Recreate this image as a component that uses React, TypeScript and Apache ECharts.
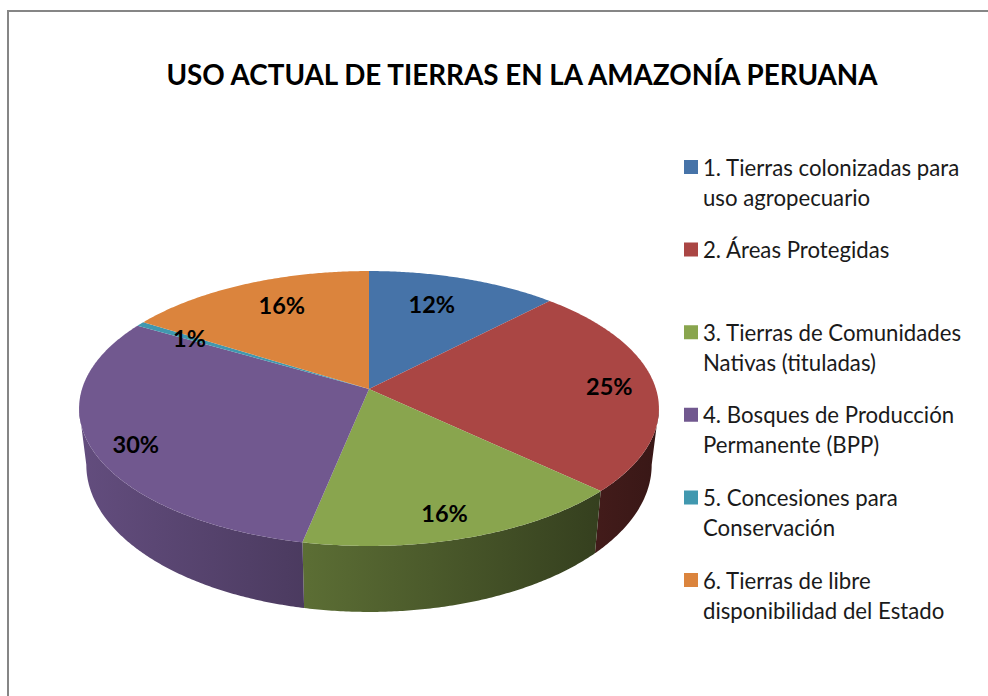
import React, { useEffect, useRef } from "react";
import * as echarts from "echarts";

const TITLE = "USO ACTUAL DE TIERRAS EN LA AMAZONÍA PERUANA";
const categories = [
  "1. Tierras colonizadas para\nuso agropecuario",
  "2. Áreas Protegidas",
  "3. Tierras de Comunidades\nNativas (tituladas)",
  "4. Bosques de Producción\nPermanente (BPP)",
  "5. Concesiones para\nConservación",
  "6. Tierras de libre\ndisponibilidad del Estado",
];
const shares = [12.2, 24.8, 16.2, 30.2, 0.55, 16.05];
const colors = ["#4673a8", "#aa4644", "#89a54e", "#71588f", "#4198af", "#db843d"];
const labelRadii = [0.7, 0.84, 0.85, 0.85, 0.75, 0.75];
const labelNudges = [[-6, -5], [0, 0], [-8, 1], [1, 6], [-5, -1], [8, -3]];

// Perspective projection of the pie's top and bottom discs
const CX = 369;
const CY = 389;
const RX = 287;
const RY = 134.7;
const PERSP = 0.1418;
const BOTTOM_CY = 444;
const BOTTOM_SX = 0.975;
const BOTTOM_SY = 1.07;
const WALL_X0 = 80;
const WALL_X1 = 660;
// The wall is visible between the projected disc's right and left extremes
const WALL_FROM = (Math.acos(-PERSP) * 180) / Math.PI;
const WALL_TO = 360 - WALL_FROM;

const project = (deg: number, r: number, bottom = false): number[] => {
  const a = (deg * Math.PI) / 180;
  const u = r * Math.sin(a);
  const v = r * Math.cos(a);
  const d = 1 + PERSP * v;
  if (bottom) {
    return [CX + (BOTTOM_SX * RX * u) / d, BOTTOM_CY - (BOTTOM_SY * RY * v) / d];
  }
  return [CX + (RX * u) / d, CY - (RY * v) / d];
};

const shade = (hex: string, x: number): string => {
  const f = 0.88 - 0.00095 * (x - WALL_X0);
  const n = parseInt(hex.slice(1), 16);
  const c = [(n >> 16) & 255, (n >> 8) & 255, n & 255].map((p) => Math.round(p * f));
  return `rgb(${c[0]},${c[1]},${c[2]})`;
};

const total = shares.reduce((s, v) => s + v, 0);

const makeRenderItem = (index: number) => (_params: any, api: any) => {
  const before = shares.slice(0, index).reduce((s, v) => s + v, 0);
  const value = api.value(0) as number;
  const start = (before / total) * 360;
  const end = ((before + value) / total) * 360;
  const children: any[] = [];

  const steps = Math.max(2, Math.ceil((end - start) * 2));
  const angle = (i: number) => start + ((end - start) * i) / steps;

  // One wall polygon per slice, shaded left to right across the whole pie
  const wallStart = Math.max(start, WALL_FROM);
  const wallEnd = Math.min(end, WALL_TO);
  if (wallEnd > wallStart) {
    const wallSteps = Math.max(2, Math.ceil((wallEnd - wallStart) * 2));
    const wallAngles: number[] = [];
    for (let i = 0; i <= wallSteps; i++) {
      wallAngles.push(wallStart + ((wallEnd - wallStart) * i) / wallSteps);
    }
    const tops = wallAngles.map((a) => project(a, 1));
    const bottoms = wallAngles.map((a) => project(a, 1, true)).reverse();
    children.push({
      type: "polygon",
      z2: 1,
      silent: true,
      shape: { points: [...tops, ...bottoms] },
      style: {
        fill: new echarts.graphic.LinearGradient(
          WALL_X0,
          0,
          WALL_X1,
          0,
          [
            { offset: 0, color: shade(colors[index], WALL_X0) },
            { offset: 1, color: shade(colors[index], WALL_X1) },
          ],
          true
        ),
      },
    });
  }

  const top: number[][] = [[CX, CY]];
  for (let i = 0; i <= steps; i++) top.push(project(angle(i), 1));
  children.push({
    type: "polygon",
    z2: 10,
    silent: true,
    shape: { points: top },
    style: { fill: colors[index] },
  });

  const lp = project((start + end) / 2, labelRadii[index]);
  children.push({
    type: "text",
    z2: 20,
    silent: true,
    style: {
      text: `${Math.round((value / total) * 100)}%`,
      x: lp[0] + labelNudges[index][0],
      y: lp[1] + labelNudges[index][1],
      align: "center",
      verticalAlign: "middle",
      font: "bold 23.5px Lato",
      fill: "#000",
    },
  });

  return { type: "group", children };
};

export default function App() {
  const ref = useRef<HTMLDivElement>(null);

  useEffect(() => {
    if (!ref.current) return;
    const chart = echarts.init(ref.current, undefined, { renderer: "svg" });
    chart.setOption({
      animation: false,
      backgroundColor: "#fff",
      title: {
        text: TITLE,
        left: 517,
        top: 55.5,
        textAlign: "center",
        textStyle: { fontFamily: "Lato", fontWeight: "bold", fontSize: 27.8, color: "#000" },
      },
      legend: {
        orient: "vertical",
        left: 684,
        top: 152,
        padding: 0,
        height: 540,
        itemGap: 22.6,
        itemWidth: 14,
        itemHeight: 60,
        selectedMode: false,
        icon: "path://M0 0L0 0ZM0 8H14V22H0ZM0 60L0 60Z",
        itemStyle: { borderWidth: 0 },
        formatter: (name: string) => (name.includes("\n") ? name : `${name}\n `),
        textStyle: { fontFamily: "Lato", fontSize: 22.2, lineHeight: 30, color: "#1a1a1a" },
        data: categories,
      },
      graphic: [
        { type: "rect", shape: { x: 7, y: 10, width: 2, height: 686 }, style: { fill: "#868686" } },
        { type: "rect", shape: { x: 7, y: 10, width: 981, height: 2 }, style: { fill: "#868686" } },
      ],
      series: categories.map((name, i) => ({
        type: "custom",
        name,
        coordinateSystem: "none",
        itemStyle: { color: colors[i] },
        renderItem: makeRenderItem(i),
        data: [[shares[i]]],
      })),
    });
    return () => chart.dispose();
  }, []);

  return (
    <div
      ref={ref}
      style={{ position: "absolute", left: 0, top: 0, width: 988, height: 696 }}
    />
  );
}
